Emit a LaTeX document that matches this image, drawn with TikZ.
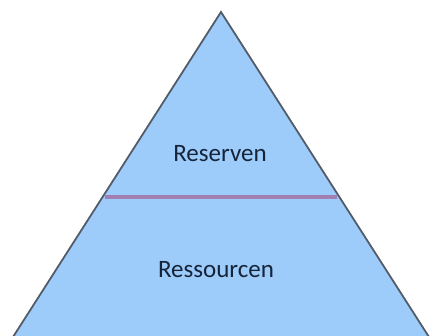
\documentclass[tikz,border=0pt]{standalone}
\usepackage{fontspec}
\setmainfont{Carlito}
\definecolor{pyrblue}{HTML}{9DCBFA}
\definecolor{pyredge}{HTML}{535D69}
\definecolor{pyrline}{HTML}{A27FB2}
\definecolor{pyrtext}{HTML}{16243A}
\begin{document}
\begin{tikzpicture}[x=1pt,y=1pt,thick]
\def\s{0.64}
\useasboundingbox (0,0) rectangle (432,336);
\clip (0,0) rectangle (432,336);
\coordinate (top) at (221,324);
\coordinate (bl) at ({221-\s*344},-20);
\coordinate (br) at ({221+\s*344},-20);
\coordinate (d1) at ({221-\s*182},139);
\coordinate (d2) at ({221+\s*182},139);
\coordinate (r1) at (220,174);
\coordinate (r2) at (216,58);
\draw[pyredge,line width=1.8pt,fill=pyrblue,line join=miter] (bl) -- (top) -- (br) -- cycle;
\draw[pyrline,line width=3.2pt] (d1) -- (d2);
\node[anchor=base,text=pyrtext,font=\fontsize{25}{30}\selectfont] (res) at (r1) {Reserven};
\node[anchor=base,text=pyrtext,font=\fontsize{25}{30}\selectfont] (ress) at (r2) {Ressourcen};
\end{tikzpicture}
\end{document}
